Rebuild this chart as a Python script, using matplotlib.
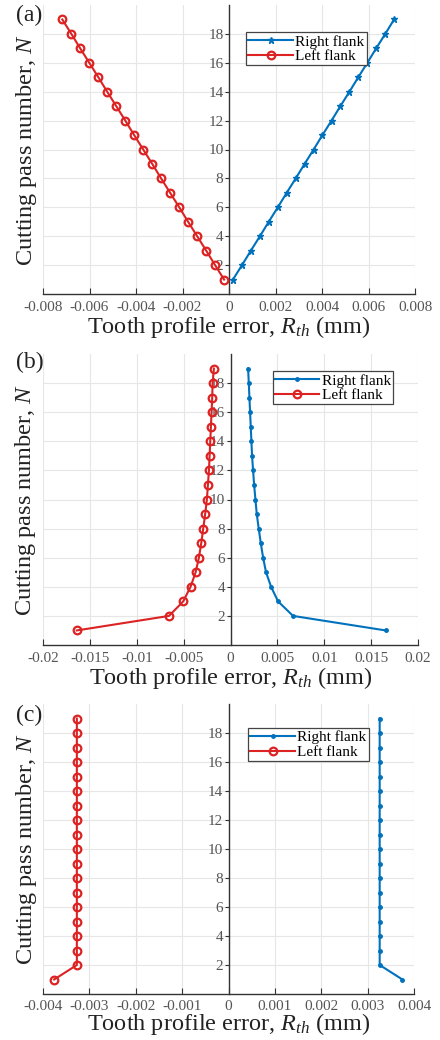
import matplotlib
matplotlib.use("Agg")
import matplotlib.pyplot as plt
import numpy as np

plt.rcParams['font.family'] = ['Liberation Serif', 'DejaVu Serif']
plt.rcParams['mathtext.fontset'] = 'custom'
plt.rcParams['mathtext.rm'] = 'Liberation Serif'
plt.rcParams['mathtext.it'] = 'Liberation Serif:italic'

N = list(range(1, 20))

# Panel (a)
a_right = [0.00017, 0.00056, 0.00094, 0.00133, 0.00171, 0.00210, 0.00248, 0.00287, 0.00325,
           0.00364, 0.00402, 0.00441, 0.00479, 0.00518, 0.00556, 0.00595, 0.00633, 0.00672, 0.00710]
a_left = [-0.00021, -0.00060, -0.00098, -0.00137, -0.00176, -0.00214, -0.00253, -0.00292, -0.00330,
          -0.00369, -0.00408, -0.00446, -0.00485, -0.00524, -0.00562, -0.00601, -0.00640, -0.00678, -0.00717]

# Panel (b)
b_right = [0.01656, 0.00667, 0.00507, 0.00433, 0.00379, 0.00348, 0.00323, 0.00301, 0.00280,
           0.00266, 0.00252, 0.00241, 0.00230, 0.00223, 0.00216, 0.00209, 0.00202, 0.00195, 0.00188]
b_left = [-0.01640, -0.00656, -0.00504, -0.00426, -0.00372, -0.00337, -0.00312, -0.00291, -0.00270,
          -0.00252, -0.00241, -0.00230, -0.00223, -0.00216, -0.00209, -0.00202, -0.00195, -0.00191, -0.00177]

# Panel (c)
c_right = [0.00375] + [0.00326] * 18
c_left = [-0.00376] + [-0.00327] * 18

a_xticks = [-0.008, -0.006, -0.004, -0.002, 0, 0.002, 0.004, 0.006, 0.008]
a_xlabels = ['-0.008', '-0.006', '-0.004', '-0.002', '0', '0.002', '0.004', '0.006', '0.008']
b_xticks = [-0.02, -0.015, -0.01, -0.005, 0, 0.005, 0.01, 0.015, 0.02]
b_xlabels = ['-0.02', '-0.015', '-0.01', '-0.005', '0', '0.005', '0.01', '0.015', '0.02']
c_xticks = [-0.004, -0.003, -0.002, -0.001, 0, 0.001, 0.002, 0.003, 0.004]
c_xlabels = ['-0.004', '-0.003', '-0.002', '-0.001', '0', '0.001', '0.002', '0.003', '0.004']
yticks = [2, 4, 6, 8, 10, 12, 14, 16, 18]

BLUE = '#0072BD'
RED = '#DC2222'
TICKC = '#555555'

W, H = 440, 1040
fig = plt.figure(figsize=(W / 100, H / 100), dpi=100)

panels = [
    dict(rect=(43, 5, 415, 294), right=a_right, left=a_left, xt=a_xticks, xl=a_xlabels,
         rmark='*', tag='(a)', tagy=15, leg=(0.546, 0.905), lp=0, tp=5),
    dict(rect=(43, 354, 418, 645), right=b_right, left=b_left, xt=b_xticks, xl=b_xlabels,
         rmark='.', tag='(b)', tagy=362, leg=(0.613, 0.94), lp=0, tp=5),
    dict(rect=(43, 704, 414, 994), right=c_right, left=c_left, xt=c_xticks, xl=c_xlabels,
         rmark='.', tag='(c)', tagy=715, leg=(0.553, 0.916), lp=-1, tp=4),
]

for p in panels:
    x0, y0, x1, y1 = p['rect']
    ax = fig.add_axes([x0 / W, 1 - y1 / H, (x1 - x0) / W, (y1 - y0) / H])
    ax.plot(p['right'], N, color=BLUE, lw=1.5, marker=p['rmark'],
            ms=5, label='Right flank', zorder=3)
    ax.plot(p['left'], N, color=RED, lw=1.5, marker='o', ms=5.5, mfc='none',
            mec=RED, mew=1.6, label='Left flank', zorder=3)
    ax.set_xlim(p['xt'][0], p['xt'][-1])
    ax.set_ylim(0, 20)
    ax.set_xticks(p['xt'])
    ax.set_xticklabels(p['xl'])
    ax.set_yticks(yticks)
    ax.spines['left'].set_position(('data', 0))
    ax.spines['top'].set_visible(False)
    ax.spines['right'].set_visible(False)
    for s in ('left', 'bottom'):
        ax.spines[s].set_color('#333333')
        ax.spines[s].set_linewidth(1.0)
    ax.tick_params(axis='x', direction='in', length=4, width=0.8, colors='#333333',
                   labelcolor=TICKC, labelsize=11, pad=p['tp'])
    ax.tick_params(axis='y', direction='out', length=3, width=0.8, colors='#333333',
                   labelcolor=TICKC, labelsize=11, pad=1)
    ax.grid(True, color='#e6e6e6', lw=0.8, zorder=0)
    ax.set_axisbelow(True)
    ax.set_xlabel('Tooth profile error, $R_{th}$ (mm)', fontsize=17.5, color='#222222',
                  labelpad=p['lp'])
    ax.set_ylabel('Cutting pass number, $N$', fontsize=17.5, color='#222222')
    ax.yaxis.set_label_coords(-0.012, 0.5)
    leg = ax.legend(loc='upper left', bbox_to_anchor=p['leg'], fontsize=11,
                    frameon=True, fancybox=False, edgecolor='#444444', framealpha=1,
                    handlelength=2.9, handletextpad=0.15, borderpad=0.15,
                    labelspacing=0.05, borderaxespad=0)
    leg.get_frame().set_linewidth(0.9)
    fig.text(16 / W, 1 - p['tagy'] / H, p['tag'], fontsize=17, ha='left', va='center',
             color='#222222')

fig.savefig('out.png', dpi=100)
